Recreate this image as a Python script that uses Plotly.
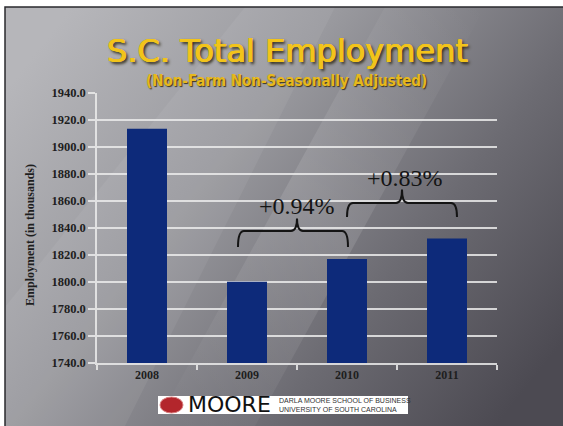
import base64
import plotly.graph_objects as go

# ---- data ----
years = ["2008", "2009", "2010", "2011"]
employment = [1913.5, 1800.2, 1817.1, 1832.2]
change_labels = ["+0.94%", "+0.83%"]
y_ticks = [1740, 1760, 1780, 1800, 1820, 1840, 1860, 1880, 1900, 1920, 1940]

W, H = 563, 426
L, R, T, B = 97, 66, 93, 63
PW, PH = W - L - R, H - T - B


def px_to_paper_x(px):
    return (px - L) / PW


def px_to_paper_y(py):
    return (H - B - py) / PH


# background slide gradient as inline SVG
svg = """<svg xmlns='http://www.w3.org/2000/svg' width='558' height='419' viewBox='0 0 558 419' preserveAspectRatio='none'>
<defs>
<linearGradient id='g' x1='0' y1='0.2' x2='1' y2='0.8'>
<stop offset='0' stop-color='#b6b6ba'/>
<stop offset='0.35' stop-color='#9a9a9f'/>
<stop offset='0.7' stop-color='#6c6b72'/>
<stop offset='1' stop-color='#4c4a52'/>
</linearGradient>
<linearGradient id='s' x1='0' y1='1' x2='1' y2='0'>
<stop offset='0' stop-color='#ffffff' stop-opacity='0'/>
<stop offset='0.5' stop-color='#ffffff' stop-opacity='0.12'/>
<stop offset='1' stop-color='#ffffff' stop-opacity='0'/>
</linearGradient>
</defs>
<rect width='558' height='419' fill='url(#g)'/>
<polygon points='150,419 250,419 480,0 380,0' fill='url(#s)'/>
<polygon points='0,300 0,419 120,419 330,0 240,0' fill='#ffffff' fill-opacity='0.06'/>
</svg>"""
src = "data:image/svg+xml;base64," + base64.b64encode(svg.encode()).decode()

fig = go.Figure()
fig.add_trace(go.Bar(
    x=years, y=employment,
    marker=dict(color="#0d2a7a", line=dict(width=0)),
    width=0.4,
    hoverinfo="skip",
))

grid_col = "rgba(235,235,235,0.85)"
fig.update_layout(
    width=W, height=H,
    margin=dict(l=L, r=R, t=T, b=B, autoexpand=False),
    paper_bgcolor="white",
    plot_bgcolor="rgba(0,0,0,0)",
    showlegend=False,
    bargap=0.6,
    xaxis=dict(
        type="category", showline=True, linecolor=grid_col, linewidth=1.5,
        ticks="outside", ticklen=5, tickcolor=grid_col, tickwidth=1.5,
        tickson="boundaries", showgrid=False,
        tickfont=dict(family="Liberation Serif", size=12, color="#1e1e1e", weight="bold"),
    ),
    yaxis=dict(
        range=[1740, 1940], tickvals=y_ticks, tickformat=".1f",
        showline=True, linecolor=grid_col, linewidth=1.5,
        ticks="outside", ticklen=7, tickcolor=grid_col, tickwidth=1.5,
        showgrid=True, gridcolor=grid_col, gridwidth=1.5, zeroline=False,
        tickfont=dict(family="Liberation Serif", size=12.5, color="#1e1e1e", weight="bold"),
    ),
    images=[dict(
        source=src, xref="paper", yref="paper",
        x=px_to_paper_x(5), y=px_to_paper_y(7),
        sizex=558 / PW, sizey=419 / PH,
        xanchor="left", yanchor="top", sizing="stretch", layer="below",
    )],
)

# slide border
fig.add_shape(type="rect", xref="paper", yref="paper",
              x0=px_to_paper_x(5), x1=px_to_paper_x(566),
              y0=px_to_paper_y(429), y1=px_to_paper_y(7),
              line=dict(color="#2a2a2e", width=1.5), layer="below")

# braces
def brace(x0, x1, xc, yb, ye, yt, dx=0.06):
    return (f"M {x0},{ye} Q {x0},{yb} {x0+dx},{yb} L {xc-dx},{yb} Q {xc},{yb} {xc},{yt} "
            f"Q {xc},{yb} {xc+dx},{yb} L {x1-dx},{yb} Q {x1},{yb} {x1},{ye}")

fig.add_shape(type="path", xref="x", yref="y",
              path=brace(0.91, 2.01, 1.5, 1837.8, 1826.0, 1847.0),
              line=dict(color="#141414", width=2))
fig.add_shape(type="path", xref="x", yref="y",
              path=brace(2.0, 3.1, 2.55, 1858.5, 1848.2, 1868.5),
              line=dict(color="#141414", width=2))
fig.add_annotation(x=1.5, y=1856, xref="x", yref="y", text=change_labels[0],
                   showarrow=False, xanchor="center", yanchor="middle",
                   font=dict(family="Liberation Serif", size=24, color="#141414"))
fig.add_annotation(x=2.58, y=1877, xref="x", yref="y", text=change_labels[1],
                   showarrow=False, xanchor="center", yanchor="middle",
                   font=dict(family="Liberation Serif", size=24, color="#141414"))


def paper_text(px, py, text, font, **kw):
    args = dict(x=px_to_paper_x(px), y=px_to_paper_y(py), xref="paper", yref="paper",
                text=text, showarrow=False, xanchor="center", yanchor="middle", font=font)
    args.update(kw)
    fig.add_annotation(**args)


# y axis title
paper_text(30, 235, "Employment (in thousands)",
           dict(family="Liberation Serif", size=12, color="#1e1e1e", weight="bold"), textangle=-90)

# titles
gold = "#f2c41a"
paper_text(287, 51, "S.C. Total Employment",
           dict(family="DejaVu Sans", size=32, color=gold,
                shadow=f"0.6px 0 0 {gold}, -0.4px 0 0 {gold}, 2px 2px 3px #2a2510"))
paper_text(286, 81, "(Non-Farm Non-Seasonally Adjusted)",
           dict(family="DejaVu Sans Condensed", size=15, color="#e6b81c", weight="bold",
                shadow="1px 1px 1px #3a3520"))

# logo
fig.add_shape(type="rect", xref="paper", yref="paper",
              x0=px_to_paper_x(158), x1=px_to_paper_x(408),
              y0=px_to_paper_y(414), y1=px_to_paper_y(396),
              fillcolor="white", line=dict(width=0))
fig.add_shape(type="circle", xref="paper", yref="paper",
              x0=px_to_paper_x(160), x1=px_to_paper_x(183),
              y0=px_to_paper_y(413), y1=px_to_paper_y(397),
              fillcolor="#b3262c", line=dict(color="#d98080", width=1))
paper_text(229, 405, "MOORE", dict(family="DejaVu Sans", size=22, color="#111111"))
paper_text(277, 405, "DARLA MOORE SCHOOL OF BUSINESS<br>UNIVERSITY OF SOUTH CAROLINA",
           dict(family="Liberation Sans", size=7, color="#333333"), xanchor="left", align="left")

fig.write_html("out.html", config={"displayModeBar": False},
               post_script="document.body.style.margin='0px';")
